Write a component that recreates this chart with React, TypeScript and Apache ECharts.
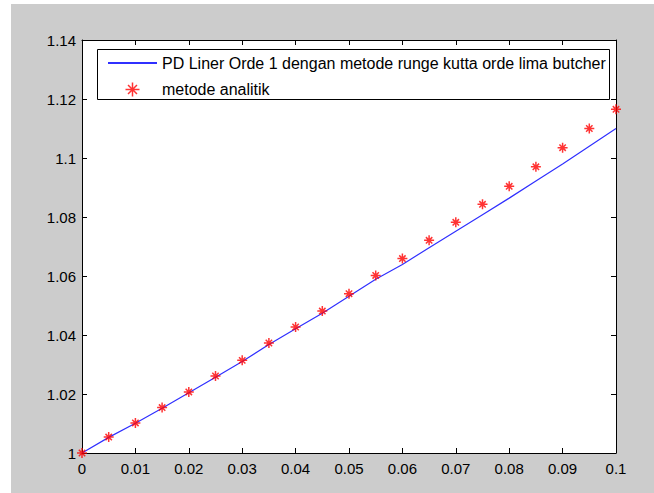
import React, { useEffect, useRef } from "react";
import * as echarts from "echarts";

const xValues = [0, 0.005, 0.01, 0.015, 0.02, 0.025, 0.03, 0.035, 0.04, 0.045, 0.05, 0.055, 0.06, 0.065, 0.07, 0.075, 0.08, 0.085, 0.09, 0.095, 0.1];
const analyticValues = [1, 1.0054, 1.0102, 1.0154, 1.0207, 1.0261, 1.0314, 1.0373, 1.0427, 1.0481, 1.054, 1.0602, 1.0659, 1.0721, 1.0782, 1.0843, 1.0904, 1.097, 1.1035, 1.110, 1.1165];
const rkValues = [1, 1.0053, 1.0101, 1.0152, 1.0204, 1.0257, 1.031, 1.0368, 1.0421, 1.0474, 1.0531, 1.0589, 1.0639, 1.0696, 1.0752, 1.0808, 1.0864, 1.0922, 1.098, 1.104, 1.110];
const seriesNames = ["PD Liner Orde 1 dengan metode runge kutta orde lima butcher", "metode analitik"];

const FONT = "'Liberation Sans', Arial, Helvetica, sans-serif";
const STAR = "path://M5 0 L5 10 M0 5 L10 5 M1.8 1.8 L8.2 8.2 M8.2 1.8 L1.8 8.2";

const fmt = (v: number) => String(+v.toFixed(2));

export default function App() {
  const ref = useRef<HTMLDivElement>(null);
  useEffect(() => {
    if (!ref.current) return;
    const chart = echarts.init(ref.current, undefined, { renderer: "svg" });
    const axisCommon = {
      axisLine: { show: true, onZero: false, lineStyle: { color: "#000", width: 1 } },
      axisTick: { show: true, inside: true, length: 5, lineStyle: { color: "#000" } },
      splitLine: { show: false },
    };
    chart.setOption({
      animation: false,
      backgroundColor: "#ffffff",
      graphic: [
        { type: "rect", z: -10, shape: { x: 11, y: 4, width: 643, height: 489 }, style: { fill: "#cccccc" } },
        { type: "rect", z: 3, shape: { x: 97.5, y: 49.5, width: 512, height: 50 }, style: { fill: "#ffffff", stroke: "#000", lineWidth: 1 } },
      ],
      grid: { left: 82, top: 40, width: 534, height: 413, show: true, backgroundColor: "#ffffff", borderColor: "#000", borderWidth: 0 },
      legend: {
        orient: "vertical",
        left: 107,
        top: 55,
        padding: 0,
        itemWidth: 49,
        itemHeight: 14,
        itemGap: 9,
        z: 5,
        textStyle: { fontFamily: FONT, fontSize: 16, lineHeight: 14, color: "#000" },
        data: [
          { name: seriesNames[0], itemStyle: { opacity: 0 } },
          { name: seriesNames[1], icon: STAR, itemStyle: { color: "none", borderColor: "#ff0000", borderWidth: 1.5 } },
        ],
      },
      xAxis: [
        {
          type: "value", min: 0, max: 0.1, interval: 0.01, position: "bottom",
          ...axisCommon,
          axisLabel: { formatter: fmt, fontFamily: FONT, fontSize: 15, color: "#000", margin: 8 },
        },
        {
          type: "value", min: 0, max: 0.1, interval: 0.01, position: "top",
          ...axisCommon,
          axisLabel: { show: false },
        },
      ],
      yAxis: [
        {
          type: "value", min: 1, max: 1.14, interval: 0.02, position: "left",
          ...axisCommon,
          axisLabel: { formatter: fmt, fontFamily: FONT, fontSize: 15, color: "#000", margin: 6 },
        },
        {
          type: "value", min: 1, max: 1.14, interval: 0.02, position: "right",
          ...axisCommon,
          axisLabel: { show: false },
        },
      ],
      series: [
        {
          name: seriesNames[0],
          type: "line",
          symbol: "none",
          data: xValues.map((x, i) => [x, rkValues[i]]),
          lineStyle: { color: "#3030ff", width: 1.2 },
          itemStyle: { color: "#3030ff" },
          z: 2,
        },
        {
          name: seriesNames[1],
          type: "scatter",
          symbol: STAR,
          symbolSize: 10,
          data: xValues.map((x, i) => [x, analyticValues[i]]),
          itemStyle: { color: "none", borderColor: "#ff0000", borderWidth: 1.5 },
          z: 3,
        },
      ],
    });
    return () => chart.dispose();
  }, []);
  return <div ref={ref} style={{ position: "fixed", left: 0, top: 0, width: 654, height: 493 }} />;
}
